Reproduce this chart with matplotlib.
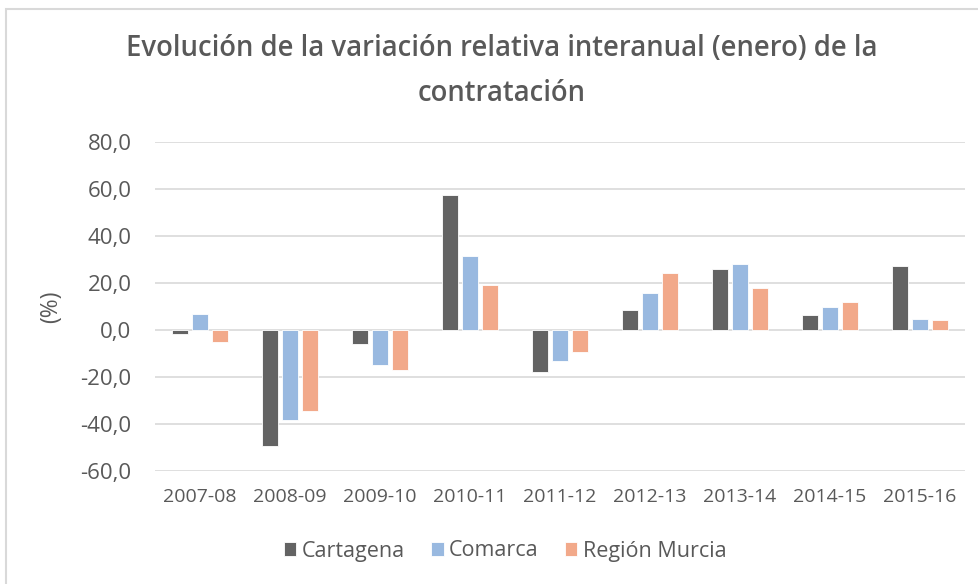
import matplotlib
matplotlib.use("Agg")
import matplotlib.pyplot as plt
import numpy as np
from matplotlib.patches import Rectangle
from matplotlib.ticker import FuncFormatter

categories = ["2007-08", "2008-09", "2009-10", "2010-11", "2011-12",
              "2012-13", "2013-14", "2014-15", "2015-16"]
cartagena = [-1.8, -49.4, -6.1, 57.3, -17.7, 8.7, 26.1, 6.4, 27.1]
comarca = [7.0, -38.3, -14.9, 31.5, -13.3, 15.6, 28.2, 9.6, 4.8]
region = [-5.1, -34.5, -17.2, 19.0, -9.5, 24.4, 17.9, 11.8, 4.1]
series_names = ["Cartagena", "Comarca", "Región Murcia"]
colors = ["#636363", "#99b9e0", "#f2a98a"]
title = "Evolución de la variación relativa interanual (enero) de la\ncontratación"

plt.rcParams['font.family'] = ['Open Sans', 'DejaVu Sans']
text_color = "#595959"

W, H = 979, 584
fig = plt.figure(figsize=(W / 100, H / 100), dpi=100)
ax = fig.add_axes([155 / W, 1 - 471 / H, (965 - 155) / W, (471 - 142) / H])

x = np.arange(len(categories))
bw = 0.178
offs = [-0.222, 0.0, 0.222]
for vals, off, c, name in zip([cartagena, comarca, region], offs, colors, series_names):
    ax.bar(x + off, vals, width=bw, color=c, edgecolor="white", linewidth=0.6,
           label=name, zorder=3)

ax.set_xlim(-0.5, len(categories) - 0.5)
ax.set_ylim(-60, 80)
ax.set_yticks(np.arange(-60, 81, 20))
ax.yaxis.set_major_formatter(FuncFormatter(lambda v, p: f"{v:.1f}".replace(".", ",")))
ax.grid(axis="y", color="#d9d9d9", linewidth=1.2, zorder=0)
ax.set_xticks(x)
ax.set_xticklabels(categories)
for s in ax.spines.values():
    s.set_visible(False)
ax.tick_params(axis="both", length=0, colors=text_color)
ax.tick_params(axis="y", labelsize=16, pad=17)
ax.tick_params(axis="x", labelsize=14, pad=12)
ax.set_ylabel("(%)", fontsize=16.5, color=text_color, labelpad=12)

fig.text(502 / W, 1 - 71 / H, title, ha="center", va="center", fontsize=19.8,
         fontweight="semibold", color=text_color, linespacing=1.7)

leg = fig.legend(loc="center", bbox_to_anchor=(505 / W, 1 - 551 / H), ncol=3,
                 frameon=False, fontsize=15.5, handlelength=0.6, handleheight=0.6,
                 handletextpad=0.25, columnspacing=1.2, borderpad=0)
for t in leg.get_texts():
    t.set_color(text_color)

fig.patches.append(Rectangle((6 / W, -0.05), 1, 1.05 - 9 / H, transform=fig.transFigure,
                             fill=False, edgecolor="#d9d9d9", linewidth=1.5))

fig.savefig("out.png", dpi=100)
